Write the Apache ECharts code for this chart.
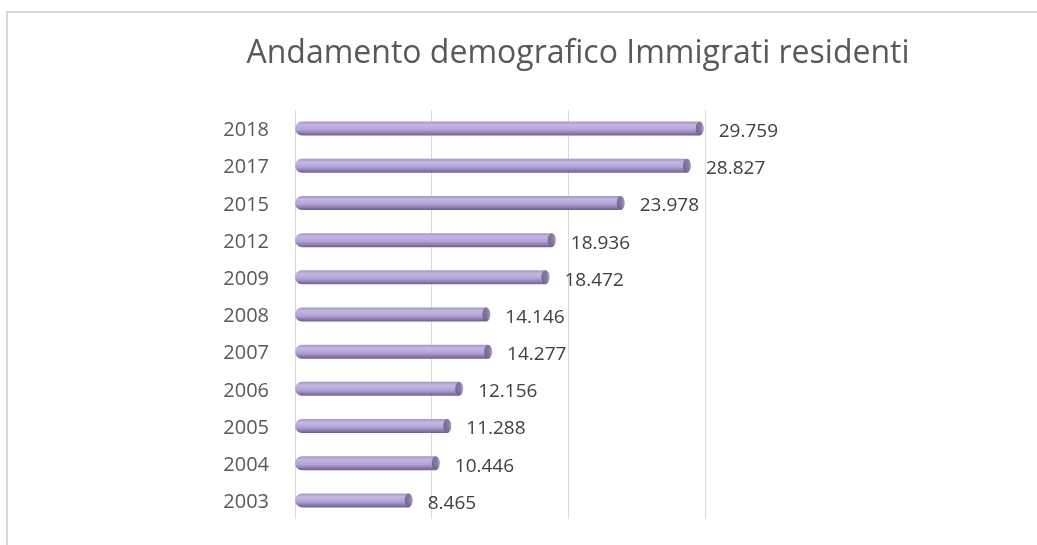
<!DOCTYPE html>
<html lang="it">
<head>
    <meta charset="UTF-8">
    <title>Andamento demografico Immigrati residenti</title>
    <script type="text/javascript" src="https://cdn.jsdelivr.net/npm/echarts@6/dist/echarts.min.js"></script>
    <style>
        html, body { margin: 0; padding: 0; background: #fff; }
    </style>
</head>
<body>
<div id="main" style="width:1037px;height:545px;"></div>
<script>
    // dati (dal basso verso l'alto)
    const anni = ['2003', '2004', '2005', '2006', '2007', '2008', '2009', '2012', '2015', '2017', '2018'];
    const immigrati = [8465, 10446, 11288, 12156, 14277, 14146, 18472, 18936, 23978, 28827, 29759];

    // 29759 -> "29.759"
    function fmt(v) {
        return String(v).replace(/\B(?=(\d{3})+(?!\d))/g, '.');
    }

    let myChart = echarts.init(document.getElementById('main'));

    let barColor = new echarts.graphic.LinearGradient(0, 0, 0, 1, [
        {offset: 0, color: '#a596c6'},
        {offset: 0.25, color: '#c4b6e2'},
        {offset: 0.6, color: '#b2a2d4'},
        {offset: 1, color: '#6d5e8e'}
    ]);
    let capColor = new echarts.graphic.LinearGradient(0, 0, 1, 0, [
        {offset: 0, color: '#66587f'},
        {offset: 1, color: '#8a7aa8'}
    ]);

    let option = {
        backgroundColor: '#fff',
        animation: false,
        title: {
            text: 'Andamento demografico Immigrati residenti',
            left: 573,
            top: 33,
            textAlign: 'center',
            textStyle: {
                color: '#595959',
                fontFamily: 'Open Sans',
                fontWeight: 'normal',
                fontSize: 32
            }
        },
        graphic: [{
            type: 'rect',
            shape: {x: 7, y: 12, width: 1100, height: 600},
            style: {fill: 'none', stroke: '#d9d9d9', lineWidth: 2},
            silent: true
        }],
        grid: {
            left: 295,
            top: 110,
            width: 410,
            height: 409
        },
        xAxis: {
            type: 'value',
            min: 0,
            max: 30000,
            interval: 10000,
            axisLabel: {show: false},
            axisLine: {show: false},
            axisTick: {show: false},
            splitLine: {lineStyle: {color: '#d9d9d9', width: 1}}
        },
        yAxis: {
            type: 'category',
            data: anni,
            axisLine: {show: false},
            axisTick: {show: false},
            axisLabel: {
                margin: 26,
                color: '#595959',
                fontFamily: 'Open Sans',
                fontSize: 20,
                verticalAlign: 'top',
                padding: [-8, 0, 0, 0]
            }
        },
        series: [{
            type: 'bar',
            data: immigrati,
            barWidth: 14,
            itemStyle: {
                color: barColor,
                borderRadius: [7, 3, 3, 7]
            },
            label: {
                show: true,
                position: 'right',
                distance: 17,
                color: '#404040',
                fontFamily: 'Open Sans',
                fontSize: 19,
                offset: [0, 3],
                formatter: p => fmt(p.value)
            }
        }, {
            type: 'scatter',
            data: immigrati,
            symbol: 'circle',
            symbolSize: [8, 14],
            symbolOffset: [-2, 0],
            itemStyle: {color: capColor},
            silent: true,
            z: 3
        }]
    };

    myChart.setOption(option);
</script>
</body>
</html>
